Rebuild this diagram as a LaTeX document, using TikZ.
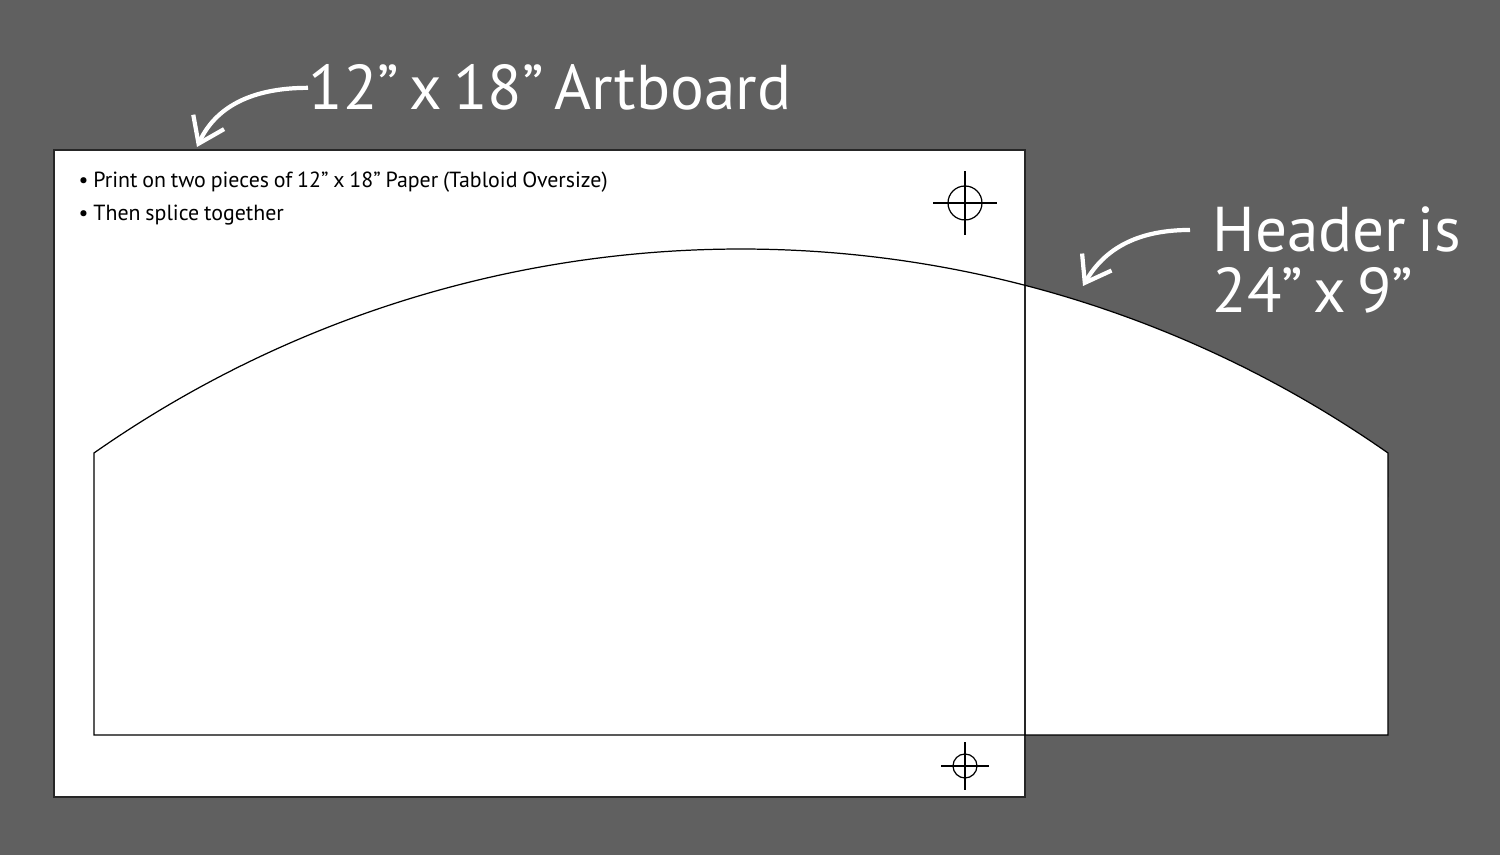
\documentclass[tikz,border=0pt]{standalone}
\usepackage{fontspec}
\setmainfont{PT Sans}
\usetikzlibrary{arrows.meta}

\definecolor{bggray}{RGB}{96,96,96}

\tikzset{
  bigtext/.style={anchor=base west, inner sep=0, text=white, font={\fontsize{18}{22}\selectfont\spaceskip=0.17em\relax}},
  notetext/.style={anchor=base west, inner sep=0, font={\fontsize{6.23}{7}\selectfont\spaceskip=0.22em\relax}},
  callout/.style={white, line width=1.2pt, -{Straight Barb[length=2.4mm,width=3.4mm]}},
}

\begin{document}
\begin{tikzpicture}

\fill[bggray] (0,0) rectangle (15,8.55);
\useasboundingbox (0,0) rectangle (15,8.55);

% artboard and header shape
\fill[white] (0.54,0.58) rectangle (10.25,7.05);
\fill[white] (0.94,1.20) -- (0.94,4.02) arc[start angle=125, end angle=55, radius=11.28] -- (13.88,1.20) -- cycle;

\draw[black!85, line width=0.5pt] (0.54,0.58) rectangle (10.25,7.05);
\draw[black, line width=0.35pt] (0.94,1.20) -- (0.94,4.02) arc[start angle=125, end angle=55, radius=11.28] -- (13.88,1.20) -- cycle;

% registration marks
\foreach \cx/\cy/\r/\l in {9.65/6.52/0.17/0.32, 9.65/0.89/0.12/0.24}{
  \draw[line width=0.35pt] (\cx,\cy) circle (\r);
  \draw[line width=0.35pt] (\cx-\l,\cy) -- (\cx+\l,\cy) (\cx,\cy-\l) -- (\cx,\cy+\l);
}

\node[notetext] (noteA) at (0.78,6.67) {• Print on two pieces of 12” x 18” Paper (Tabloid Oversize)};
\node[notetext] (noteB) at (0.78,6.34) {• Then splice together};

\node[bigtext] (board) at (3.08,7.45) {12” x 18” Artboard};
\node[bigtext] (hdrtop) at (12.12,6.03) {Header is};
\node[bigtext] (hdrbot) at (12.12,5.42) {24” x 9”};

\coordinate (boardtip) at (1.97,7.08);
\coordinate (headtip) at (10.83,5.69);

\draw[callout] (board.west) to[out=180, in=65] (boardtip);
\draw[callout] ([xshift=-2.2mm]hdrtop.west) to[out=180, in=60] (headtip);

\end{tikzpicture}
\end{document}
